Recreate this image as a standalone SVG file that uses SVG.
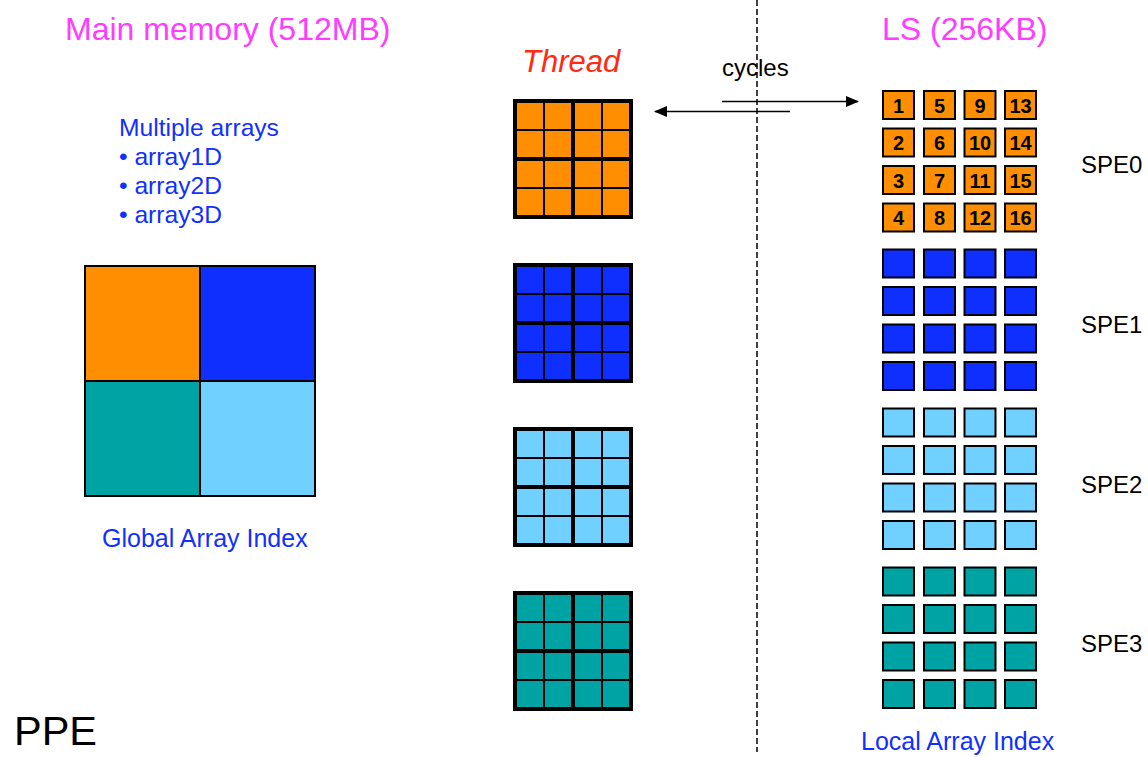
<svg xmlns="http://www.w3.org/2000/svg" xmlns:xlink="http://www.w3.org/1999/xlink" width="1148" height="757" viewBox="0 0 1148 757">
<style>
text{font-family:"Liberation Sans",Arial,Helvetica,sans-serif}
.title{font-size:32px;fill:#FF3CFF}
.blue{font-size:24.6px;fill:#1030FF}
.idx{font-size:25px;fill:#1030FF}
.spe{font-size:24px;fill:#000}
.num{font-size:20px;font-weight:bold;fill:#000;text-anchor:middle}
.o{fill:#FF8F00}
.b{fill:#0F2FFF}
.l{fill:#70D0FF}
.t{fill:#00A3A3}
.box{stroke:#000;stroke-width:2}
.conn{stroke:#000;stroke-width:1.6;fill:none}
</style>
<defs>
<marker id="ah" markerUnits="userSpaceOnUse" markerWidth="13" markerHeight="11" refX="12" refY="5.5" orient="auto">
<path d="M0,0 L13,5.5 L0,11 z" fill="#000"/>
</marker>
<g id="grid">
<rect x="0" y="0" width="120" height="120" fill="#000"/>
<rect x="4" y="4" width="26" height="26"/><rect x="32" y="4" width="26" height="26"/><rect x="62" y="4" width="26" height="26"/><rect x="90" y="4" width="26" height="26"/>
<rect x="4" y="32" width="26" height="26"/><rect x="32" y="32" width="26" height="26"/><rect x="62" y="32" width="26" height="26"/><rect x="90" y="32" width="26" height="26"/>
<rect x="4" y="62" width="26" height="26"/><rect x="32" y="62" width="26" height="26"/><rect x="62" y="62" width="26" height="26"/><rect x="90" y="62" width="26" height="26"/>
<rect x="4" y="90" width="26" height="26"/><rect x="32" y="90" width="26" height="26"/><rect x="62" y="90" width="26" height="26"/><rect x="90" y="90" width="26" height="26"/>
</g>
</defs>
<rect width="1148" height="757" fill="#fff"/>

<g id="titles">
<text class="title" x="65" y="40">Main memory (512MB)</text>
<text class="title" x="882" y="40">LS (256KB)</text>
<text x="522" y="71.5" style="font-size:31px;font-style:italic;fill:#FF2A10">Thread</text>
<text x="722" y="75.5" style="font-size:24px;fill:#000">cycles</text>
<text x="14" y="745" style="font-size:41.5px;fill:#000">PPE</text>
</g>

<g id="arrays-list">
<text class="blue" x="119" y="136">Multiple arrays</text>
<text class="blue" x="119" y="165">• array1D</text>
<text class="blue" x="119" y="194">• array2D</text>
<text class="blue" x="119" y="223">• array3D</text>
</g>

<g id="global-array">
<rect class="o" x="84" y="265" width="116" height="116"/>
<rect class="b" x="200" y="265" width="116" height="116"/>
<rect class="t" x="84" y="381" width="116" height="116"/>
<rect class="l" x="200" y="381" width="116" height="116"/>
<rect x="85" y="266" width="230" height="230" fill="none" stroke="#000" stroke-width="2"/>
<line x1="200" y1="265" x2="200" y2="497" stroke="#000" stroke-width="2"/>
<line x1="84" y1="381" x2="316" y2="381" stroke="#000" stroke-width="2"/>
<text class="idx" x="102" y="547">Global Array Index</text>
</g>

<g id="thread0"><use xlink:href="#grid" href="#grid" x="513" y="99" class="o"/></g>
<g id="thread1"><use xlink:href="#grid" href="#grid" x="513" y="263" class="b"/></g>
<g id="thread2"><use xlink:href="#grid" href="#grid" x="513" y="427" class="l"/></g>
<g id="thread3"><use xlink:href="#grid" href="#grid" x="513" y="591" class="t"/></g>

<g id="spe0">
<rect class="o box" x="883" y="91" width="31" height="28"/><rect class="o box" x="924" y="91" width="31" height="28"/><rect class="o box" x="964.5" y="91" width="31" height="28"/><rect class="o box" x="1005" y="91" width="31" height="28"/>
<rect class="o box" x="883" y="128.5" width="31" height="28"/><rect class="o box" x="924" y="128.5" width="31" height="28"/><rect class="o box" x="964.5" y="128.5" width="31" height="28"/><rect class="o box" x="1005" y="128.5" width="31" height="28"/>
<rect class="o box" x="883" y="166" width="31" height="28"/><rect class="o box" x="924" y="166" width="31" height="28"/><rect class="o box" x="964.5" y="166" width="31" height="28"/><rect class="o box" x="1005" y="166" width="31" height="28"/>
<rect class="o box" x="883" y="203.5" width="31" height="28"/><rect class="o box" x="924" y="203.5" width="31" height="28"/><rect class="o box" x="964.5" y="203.5" width="31" height="28"/><rect class="o box" x="1005" y="203.5" width="31" height="28"/>
<text class="num" x="898.5" y="112.5">1</text><text class="num" x="939.5" y="112.5">5</text><text class="num" x="980" y="112.5">9</text><text class="num" x="1020.5" y="112.5">13</text>
<text class="num" x="898.5" y="150">2</text><text class="num" x="939.5" y="150">6</text><text class="num" x="980" y="150">10</text><text class="num" x="1020.5" y="150">14</text>
<text class="num" x="898.5" y="187.5">3</text><text class="num" x="939.5" y="187.5">7</text><text class="num" x="980" y="187.5">11</text><text class="num" x="1020.5" y="187.5">15</text>
<text class="num" x="898.5" y="225">4</text><text class="num" x="939.5" y="225">8</text><text class="num" x="980" y="225">12</text><text class="num" x="1020.5" y="225">16</text>
<text class="spe" x="1081" y="173">SPE0</text>
</g>

<g id="spe1">
<rect class="b box" x="883" y="249.5" width="31" height="28"/><rect class="b box" x="924" y="249.5" width="31" height="28"/><rect class="b box" x="964.5" y="249.5" width="31" height="28"/><rect class="b box" x="1005" y="249.5" width="31" height="28"/>
<rect class="b box" x="883" y="287" width="31" height="28"/><rect class="b box" x="924" y="287" width="31" height="28"/><rect class="b box" x="964.5" y="287" width="31" height="28"/><rect class="b box" x="1005" y="287" width="31" height="28"/>
<rect class="b box" x="883" y="324.5" width="31" height="28"/><rect class="b box" x="924" y="324.5" width="31" height="28"/><rect class="b box" x="964.5" y="324.5" width="31" height="28"/><rect class="b box" x="1005" y="324.5" width="31" height="28"/>
<rect class="b box" x="883" y="362" width="31" height="28"/><rect class="b box" x="924" y="362" width="31" height="28"/><rect class="b box" x="964.5" y="362" width="31" height="28"/><rect class="b box" x="1005" y="362" width="31" height="28"/>
<text class="spe" x="1081" y="333">SPE1</text>
</g>

<g id="spe2">
<rect class="l box" x="883" y="408.5" width="31" height="28"/><rect class="l box" x="924" y="408.5" width="31" height="28"/><rect class="l box" x="964.5" y="408.5" width="31" height="28"/><rect class="l box" x="1005" y="408.5" width="31" height="28"/>
<rect class="l box" x="883" y="446" width="31" height="28"/><rect class="l box" x="924" y="446" width="31" height="28"/><rect class="l box" x="964.5" y="446" width="31" height="28"/><rect class="l box" x="1005" y="446" width="31" height="28"/>
<rect class="l box" x="883" y="483.5" width="31" height="28"/><rect class="l box" x="924" y="483.5" width="31" height="28"/><rect class="l box" x="964.5" y="483.5" width="31" height="28"/><rect class="l box" x="1005" y="483.5" width="31" height="28"/>
<rect class="l box" x="883" y="521" width="31" height="28"/><rect class="l box" x="924" y="521" width="31" height="28"/><rect class="l box" x="964.5" y="521" width="31" height="28"/><rect class="l box" x="1005" y="521" width="31" height="28"/>
<text class="spe" x="1081" y="493">SPE2</text>
</g>

<g id="spe3">
<rect class="t box" x="883" y="567.5" width="31" height="28"/><rect class="t box" x="924" y="567.5" width="31" height="28"/><rect class="t box" x="964.5" y="567.5" width="31" height="28"/><rect class="t box" x="1005" y="567.5" width="31" height="28"/>
<rect class="t box" x="883" y="605" width="31" height="28"/><rect class="t box" x="924" y="605" width="31" height="28"/><rect class="t box" x="964.5" y="605" width="31" height="28"/><rect class="t box" x="1005" y="605" width="31" height="28"/>
<rect class="t box" x="883" y="642.5" width="31" height="28"/><rect class="t box" x="924" y="642.5" width="31" height="28"/><rect class="t box" x="964.5" y="642.5" width="31" height="28"/><rect class="t box" x="1005" y="642.5" width="31" height="28"/>
<rect class="t box" x="883" y="680" width="31" height="28"/><rect class="t box" x="924" y="680" width="31" height="28"/><rect class="t box" x="964.5" y="680" width="31" height="28"/><rect class="t box" x="1005" y="680" width="31" height="28"/>
<text class="spe" x="1081" y="652">SPE3</text>
</g>

<text class="idx" x="861" y="750">Local Array Index</text>

<g id="connectors">
<line x1="757" y1="0" x2="757" y2="752" stroke="#000" stroke-width="1.5" stroke-dasharray="6,3"/>
<line class="conn" x1="722" y1="101.5" x2="858" y2="101.5" marker-end="url(#ah)"/>
<line class="conn" x1="790" y1="111.5" x2="655" y2="111.5" marker-end="url(#ah)"/>
</g>
</svg>
